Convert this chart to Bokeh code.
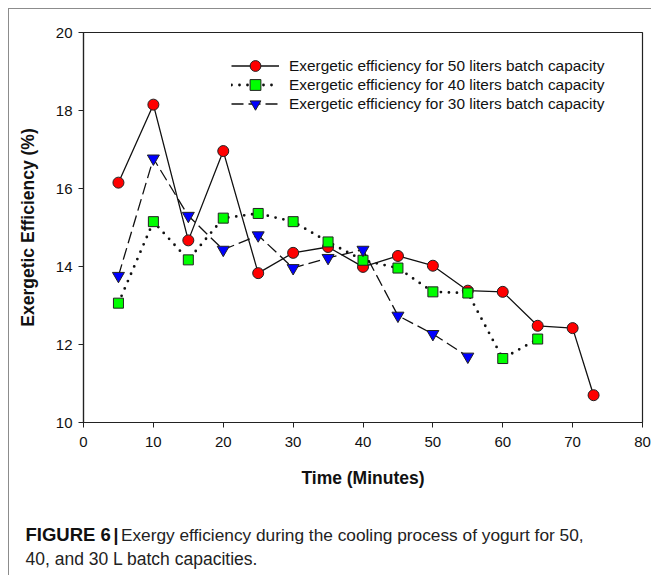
from bokeh.plotting import figure
from bokeh.models import ColumnDataSource, Label, Legend, LegendItem, FixedTicker
from bokeh.embed import file_html
from bokeh.resources import INLINE

# Data
time_50 = [5, 10, 15, 20, 25, 30, 35, 40, 45, 50, 55, 60, 65, 70, 73]
eff_50 = [16.15, 18.15, 14.67, 16.96, 13.83, 14.35, 14.50, 13.99, 14.27, 14.02, 13.38, 13.35, 12.48, 12.42, 10.70]

time_40 = [5, 10, 15, 20, 25, 30, 35, 40, 45, 50, 55, 60, 65]
eff_40 = [13.06, 15.15, 14.17, 15.24, 15.36, 15.15, 14.63, 14.16, 13.96, 13.35, 13.32, 11.64, 12.14]

time_30 = [5, 10, 15, 20, 25, 30, 35, 40, 45, 50, 55]
eff_30 = [13.76, 16.77, 15.30, 14.43, 14.80, 13.96, 14.22, 14.43, 12.74, 12.27, 11.69]

labels = [
    "Exergetic efficiency for 50 liters batch capacity",
    "Exergetic efficiency for 40 liters batch capacity",
    "Exergetic efficiency for 30 liters batch capacity",
]
x_ticks = [0, 10, 20, 30, 40, 50, 60, 70, 80]
y_ticks = [10, 12, 14, 16, 18, 20]

caption_bold = "FIGURE 6"
caption_line1 = "Exergy efficiency during the cooling process of yogurt for 50,"
caption_line2 = "40, and 30 L batch capacities."

FONT = "Liberation Sans"

p = figure(width=643, height=567, x_range=(0, 80), y_range=(10, 20),
           output_backend="svg", toolbar_location=None,
           min_border_left=74, min_border_top=23, min_border_right=10,
           min_border_bottom=154)
p.styles = {"margin-left": "8px", "margin-top": "8px",
            "border-top": "1px solid #8c8c8c", "border-left": "1px solid #8c8c8c"}

p.xgrid.visible = False
p.ygrid.visible = False
p.outline_line_color = "#222222"
p.outline_line_width = 1.2

for ax in (p.xaxis[0], p.yaxis[0]):
    ax.axis_line_color = "#222222"
    ax.axis_line_width = 1.2
    ax.major_tick_line_color = "#222222"
    ax.major_tick_out = 5
    ax.major_tick_in = 0
    ax.minor_tick_line_color = None
    ax.major_label_text_font = FONT
    ax.major_label_text_font_size = "15px"
    ax.major_label_text_color = "#111111"
    ax.axis_label_text_font = FONT
    ax.axis_label_text_font_size = "17.5px"
    ax.axis_label_text_font_style = "bold"
    ax.axis_label_text_color = "#111111"

p.xaxis.ticker = FixedTicker(ticks=x_ticks)
p.yaxis.ticker = FixedTicker(ticks=y_ticks)
p.xaxis.axis_label = "Time (Minutes)"
p.yaxis.axis_label = "Exergetic Efficiency (%)"
p.xaxis.major_label_standoff = 9
p.yaxis.major_label_standoff = 6
p.xaxis.axis_label_standoff = 18
p.yaxis.axis_label_standoff = 15

s50 = ColumnDataSource(dict(x=time_50, y=eff_50))
s40 = ColumnDataSource(dict(x=time_40, y=eff_40))
s30 = ColumnDataSource(dict(x=time_30, y=eff_30))

l50 = p.line("x", "y", source=s50, line_color="#111111", line_width=1.3)
m50 = p.scatter("x", "y", source=s50, marker="circle", size=11,
                fill_color="#ff0000", line_color="#222222", line_width=1)
l40 = p.line("x", "y", source=s40, line_color="#111111", line_width=2.8,
             line_dash="0 8", line_cap="round")
m40 = p.scatter("x", "y", source=s40, marker="square", size=10,
                fill_color="#00ff00", line_color="#222222", line_width=1)
l30 = p.line("x", "y", source=s30, line_color="#111111", line_width=1.3,
             line_dash="12 5")
m30 = p.scatter("x", "y", source=s30, marker="inverted_triangle", size=12,
                fill_color="#0000ff", line_color="#222222", line_width=1)

# one single-row legend per series, so rows can sit close with full-size markers
legend_rows = [(labels[0], [l50, m50], 343), (labels[1], [l40, m40], 324), (labels[2], [l30, m30], 305)]
for lab, rends, ypos in legend_rows:
    lg = Legend(items=[LegendItem(label=lab, renderers=rends)], location=(148, ypos))
    lg.border_line_color = None
    lg.background_fill_alpha = 0
    lg.padding = 0
    lg.margin = 0
    lg.spacing = 0
    lg.glyph_width = 48
    lg.glyph_height = 27
    lg.label_height = 27
    lg.label_standoff = 10
    lg.label_text_font = FONT
    lg.label_text_font_size = "15.4px"
    lg.label_text_color = "#111111"
    p.add_layout(lg, "center")

# caption: labels in data coordinates, placed in the bottom side panel (not clipped)
cap_a = Label(x=-8.3, y=7.125, text=caption_bold, text_font=FONT, text_baseline="alphabetic",
              text_font_size="18.5px", text_font_style="bold", text_color="#111111")
cap_bar = Label(x=4.3, y=7.125, text="|", text_font=FONT, text_baseline="alphabetic",
                text_font_size="17.5px", text_font_style="bold", text_color="#111111")
cap_b = Label(x=5.35, y=7.125, text=caption_line1, text_font=FONT, text_baseline="alphabetic",
              text_font_size="17.3px", text_color="#222222")
cap_c = Label(x=-8.3, y=6.51, text=caption_line2, text_font=FONT, text_baseline="alphabetic",
              text_font_size="17.5px", text_color="#222222")
for c in (cap_a, cap_bar, cap_b, cap_c):
    p.add_layout(c, "below")

open("out.html", "w").write(file_html(p, INLINE))
